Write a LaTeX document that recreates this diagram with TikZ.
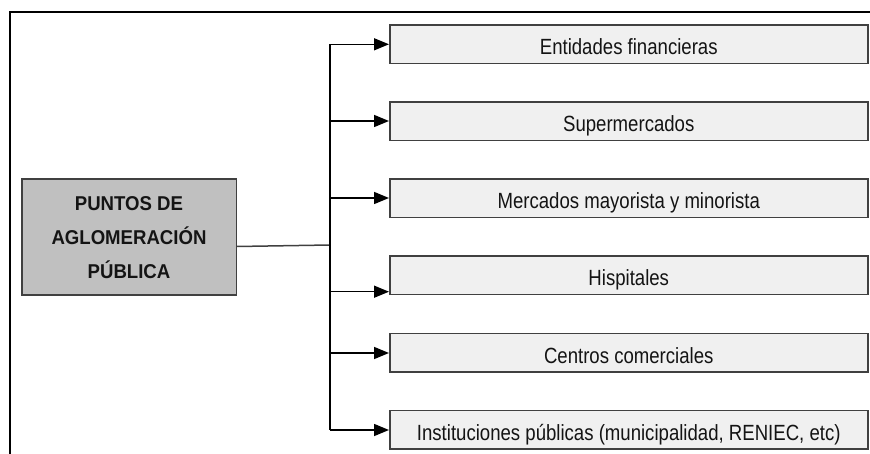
\documentclass[tikz,border=0pt]{standalone}
\usepackage{fontspec}
\setmainfont{Liberation Sans}[FakeStretch=0.845]
\newfontfamily\mainlabelfont{Liberation Sans}[FakeStretch=0.93]
\usetikzlibrary{arrows.meta}
\definecolor{boxedge}{HTML}{404040}
\definecolor{itemfill}{HTML}{F0F0F0}
\definecolor{mainfill}{HTML}{C0C0C0}
\definecolor{labelink}{HTML}{141414}
\tikzset{
  frame/.style={line width=2pt, draw=black},
  itembox/.style={draw=boxedge, line width=1.5pt, fill=itemfill, anchor=north west,
    minimum width=478pt, minimum height=38.5pt, inner sep=0pt, text=labelink,
    text height=21pt, text depth=0pt, font=\fontsize{22}{26}\selectfont},
  mainbox/.style={draw=boxedge, line width=1.5pt, fill=mainfill, anchor=north west,
    minimum width=214.5pt, minimum height=116pt, inner sep=0pt, align=center, text=labelink,
    font=\mainlabelfont\fontsize{20}{34}\selectfont\bfseries},
  link/.style={draw=boxedge, line width=1.5pt},
  branch/.style={draw=black, line width=1.5pt},
  arrowlink/.style={draw=black, line width=1.5pt, -{Triangle[length=15pt, width=12pt]}}
}
\begin{document}
\begin{tikzpicture}[x=1pt, y=-1pt]
\useasboundingbox (0,0) rectangle (870,454);
\draw[frame] (872,12) -- (10,12) -- (10,456);

\node[mainbox] (main) at (21,178.5) {PUNTOS DE\\AGLOMERACIÓN\\PÚBLICA};

\node[itembox] (b1) at (389,24.5) {Entidades financieras};
\node[itembox] (b2) at (389,101.5) {Supermercados};
\node[itembox] (b3) at (389,178.5) {Mercados mayorista y minorista};
\node[itembox] (b4) at (389,255.5) {Hispitales};
\node[itembox] (b5) at (389,332.5) {Centros comerciales};
\node[itembox] (b6) at (389,409.5) {Instituciones públicas (municipalidad, RENIEC, etc)};

\coordinate (j) at (330,245);
\coordinate (m) at (main.east |- 0,246.5);
\coordinate (t1) at (330,44.3);
\coordinate (t2) at (330,121);
\coordinate (t3) at (330,198);
\coordinate (t4) at (330,291.7);
\coordinate (t5) at (330,353);
\coordinate (t6) at (330,430);

\draw[link] (m) -- (j);
\draw[branch] (t1) -- (t6);
\draw[arrowlink] (t1) -- (t1 -| b1.west);
\draw[arrowlink] (t2) -- (t2 -| b2.west);
\draw[arrowlink] (t3) -- (t3 -| b3.west);
\draw[arrowlink] (t4) -- (t4 -| b4.west);
\draw[arrowlink] (t5) -- (t5 -| b5.west);
\draw[arrowlink] (t6) -- (t6 -| b6.west);
\end{tikzpicture}
\end{document}
